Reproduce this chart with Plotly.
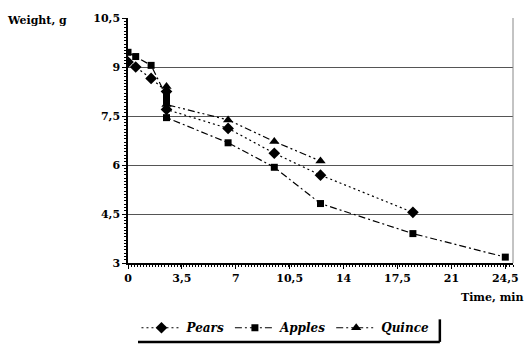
import plotly.graph_objects as go

pears_x = [0, 0.5, 1.5, 2.5, 2.5, 6.5, 9.5, 12.5, 18.5]
pears_y = [9.15, 9.0, 8.65, 8.25, 7.7, 7.12, 6.36, 5.69, 4.55]

apples_x = [0, 0.5, 1.5, 2.5, 2.5, 2.5, 6.5, 9.5, 12.5, 18.5, 24.5]
apples_y = [9.45, 9.32, 9.05, 8.1, 7.95, 7.45, 6.68, 5.93, 4.82, 3.9, 3.18]

quince_x = [2.5, 2.5, 6.5, 9.5, 12.5]
quince_y = [8.4, 7.85, 7.38, 6.72, 6.12]

x_ticks = [0, 3.5, 7, 10.5, 14, 17.5, 21, 24.5]
x_labels = ["0", "3,5", "7", "10,5", "14", "17,5", "21", "24,5"]
y_ticks = [3, 4.5, 6, 7.5, 9, 10.5]
y_labels = ["3", "4,5", "6", "7,5", "9", "10,5"]

FONT = "DejaVu Serif"

fig = go.Figure()
fig.add_trace(go.Scatter(
    x=pears_x, y=pears_y, name="<b><i>Pears</i></b>", mode="lines+markers",
    line=dict(color="black", width=1.2, dash="2px,3px"),
    marker=dict(symbol="diamond", size=9, color="black")))
fig.add_trace(go.Scatter(
    x=apples_x, y=apples_y, name="<b><i>Apples</i></b>", mode="lines+markers",
    line=dict(color="black", width=1.2, dash="7px,3px,2px,3px"),
    marker=dict(symbol="square", size=7, color="black")))
fig.add_trace(go.Scatter(
    x=quince_x, y=quince_y, name="<b><i>Quince</i></b>", mode="lines+markers",
    line=dict(color="black", width=1.2, dash="7px,3px,2px,3px,2px,3px"),
    marker=dict(symbol="triangle-up", size=9, color="black")))

tfont = dict(family=FONT, size=11, color="black", weight="bold")

fig.update_layout(
    width=531, height=363,
    margin=dict(l=128, r=13, t=15, b=100),
    paper_bgcolor="white", plot_bgcolor="white",
    font=dict(family=FONT, size=11, color="black"),
    showlegend=True,
    legend=dict(orientation="h", x=0.022, y=-0.205, xanchor="left", yanchor="top",
                font=dict(family=FONT, size=12, color="black"),
                itemwidth=40, tracegroupgap=0, bgcolor="rgba(0,0,0,0)"),
    xaxis=dict(range=[0, 25], tickvals=x_ticks, ticktext=x_labels,
               showgrid=False, zeroline=False, showline=True, linecolor="black", linewidth=1.5,
               ticks="outside", ticklen=4, tickcolor="black",
               tickfont=tfont,
               minor=dict(dtick=0.2, ticks="outside", ticklen=2, tickcolor="black")),
    yaxis=dict(range=[3, 10.5], tickvals=y_ticks, ticktext=y_labels,
               showgrid=True, gridcolor="#555555", gridwidth=1, zeroline=False,
               showline=True, linecolor="black", linewidth=1.5,
               ticks="outside", ticklen=4, tickcolor="black",
               tickfont=tfont,
               minor=dict(dtick=0.1, ticks="outside", ticklen=2, tickcolor="black",
                          showgrid=False)),
)

# right border of plot area
fig.add_shape(type="line", xref="paper", yref="paper", x0=1, x1=1, y0=0, y1=1,
              line=dict(color="#888888", width=1))

fig.add_annotation(text="<b>Weight, g</b>", xref="paper", yref="paper",
                   x=-0.236, y=0.99, xanchor="center", yanchor="middle", showarrow=False,
                   font=dict(family=FONT, size=11, color="black"))
fig.add_annotation(text="<b>Time, min</b>", xref="paper", yref="paper",
                   x=1.03, y=-0.14, xanchor="right", yanchor="middle", showarrow=False,
                   font=dict(family=FONT, size=11, color="black"))

# legend frame (shadow-like bottom and right edges)
fig.add_shape(type="line", xref="paper", yref="paper", x0=0.026, x1=0.81, y0=-0.322, y1=-0.322,
              line=dict(color="black", width=2.5))
fig.add_shape(type="line", xref="paper", yref="paper", x0=0.81, x1=0.81, y0=-0.322, y1=-0.23,
              line=dict(color="black", width=2.5))

fig.write_html("out.html")
